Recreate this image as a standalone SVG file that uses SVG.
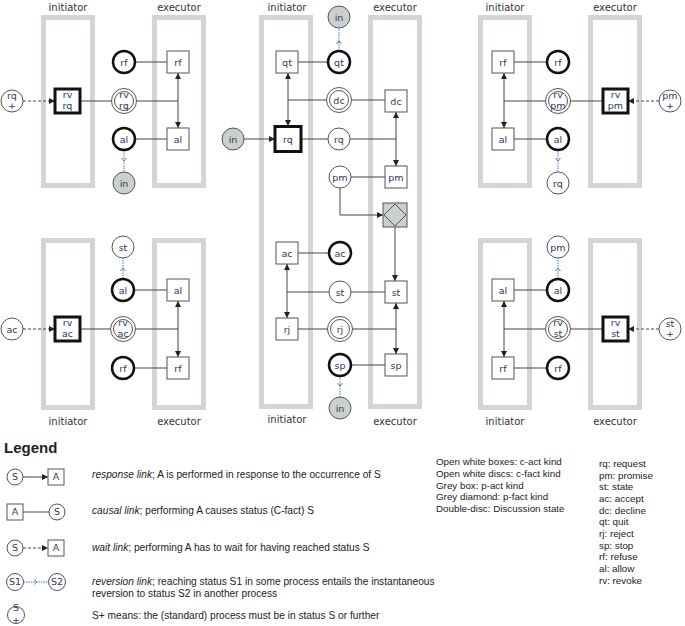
<svg xmlns="http://www.w3.org/2000/svg" width="685" height="626" viewBox="0 0 685 626">
<style>
.lane{fill:none;stroke:#d2d6d2;stroke-width:5}
.lbl{font-family:"DejaVu Sans",sans-serif;font-size:10px;fill:#333;text-anchor:middle}
.box{fill:#fff;stroke:#555;stroke-width:1}
.tbox{fill:#fff;stroke:#111;stroke-width:3}
.sc{fill:#fff;stroke:#555;stroke-width:1}
.tc{fill:#fff;stroke:#111;stroke-width:2.5}
.gc{fill:#ccd0cc;stroke:#555;stroke-width:1}
.t{font-family:"DejaVu Sans",sans-serif;font-size:9.5px;fill:#2a3868;text-anchor:middle}
.ln{stroke:#444;stroke-width:1;fill:none}
.dash{stroke-dasharray:3,2}
.rev{stroke:#4a78c8;stroke-width:1;stroke-dasharray:1.5,1;fill:none}
.lg{font-family:"Liberation Sans",Arial,sans-serif;font-size:10.2px;fill:#222}
.lr{font-family:"Liberation Sans",Arial,sans-serif;font-size:9.8px;fill:#222}
</style>
<defs>
<marker id="a" viewBox="0 0 6 6" refX="6" refY="3" markerWidth="6" markerHeight="6" markerUnits="userSpaceOnUse" orient="auto-start-reverse"><path d="M0,0 L6,3 L0,6 z" fill="#222"/></marker>
<marker id="v" viewBox="0 0 6 6" refX="4" refY="3" markerWidth="6" markerHeight="6" markerUnits="userSpaceOnUse" orient="auto"><path d="M1,0.5 L4,3 L1,5.5" fill="none" stroke="#4a78c8" stroke-width="1"/></marker>
</defs>

<g id="lanes">
<rect class="lane" x="43.5" y="17.5" width="49" height="168"/>
<rect class="lane" x="154.5" y="17.5" width="49" height="168"/>
<rect class="lane" x="43.5" y="240.5" width="49" height="167"/>
<rect class="lane" x="154.5" y="240.5" width="49" height="167"/>
<rect class="lane" x="261.5" y="17.5" width="49" height="389"/>
<rect class="lane" x="370.5" y="17.5" width="49" height="389"/>
<rect class="lane" x="480.5" y="17.5" width="49" height="168"/>
<rect class="lane" x="590.5" y="17.5" width="49" height="168"/>
<rect class="lane" x="480.5" y="240.5" width="49" height="167"/>
<rect class="lane" x="590.5" y="240.5" width="49" height="167"/>
<text class="lbl" x="68" y="11">initiator</text>
<text class="lbl" x="179" y="11">executor</text>
<text class="lbl" x="68" y="425">initiator</text>
<text class="lbl" x="179" y="425">executor</text>
<text class="lbl" x="287" y="11">initiator</text>
<text class="lbl" x="395" y="11">executor</text>
<text class="lbl" x="287" y="423">initiator</text>
<text class="lbl" x="395" y="425">executor</text>
<text class="lbl" x="505" y="11">initiator</text>
<text class="lbl" x="615" y="11">executor</text>
<text class="lbl" x="505" y="425">initiator</text>
<text class="lbl" x="615" y="425">executor</text>
</g>

<g id="connectors">
<line class="ln" x1="135" y1="62" x2="167" y2="62"/>
<line class="ln dash" x1="23" y1="101" x2="55" y2="101" marker-end="url(#a)"/>
<line class="ln" x1="80" y1="101" x2="111.5" y2="101"/>
<line class="ln" x1="136.5" y1="101" x2="178" y2="101"/>
<line class="ln" x1="178" y1="73" x2="178" y2="128" marker-start="url(#a)" marker-end="url(#a)"/>
<line class="ln" x1="135" y1="139" x2="167" y2="139"/>
<path class="rev" d="M124,150 L124,161 L124,172" marker-mid="url(#v)"/>
<path class="rev" d="M123,279 L123,268 L123,258" marker-mid="url(#v)"/>
<line class="ln" x1="134" y1="290" x2="167" y2="290"/>
<line class="ln dash" x1="23" y1="329" x2="55" y2="329" marker-end="url(#a)"/>
<line class="ln" x1="80" y1="329" x2="110.5" y2="329"/>
<line class="ln" x1="135.5" y1="329" x2="178" y2="329"/>
<line class="ln" x1="178" y1="301" x2="178" y2="357" marker-start="url(#a)" marker-end="url(#a)"/>
<line class="ln" x1="134" y1="368" x2="167" y2="368"/>
<path class="rev" d="M339,51 L339,41 L339,28" marker-mid="url(#v)"/>
<line class="ln" x1="298" y1="62" x2="328" y2="62"/>
<line class="ln" x1="288" y1="73" x2="288" y2="126" marker-start="url(#a)" marker-end="url(#a)"/>
<line class="ln" x1="288" y1="100" x2="326.5" y2="100"/>
<line class="ln" x1="351.5" y1="100" x2="385" y2="100"/>
<line class="ln" x1="244" y1="139" x2="275" y2="139" marker-end="url(#a)"/>
<line class="ln" x1="301" y1="139" x2="328" y2="139"/>
<line class="ln" x1="350" y1="139" x2="396" y2="139"/>
<line class="ln" x1="396" y1="112" x2="396" y2="166" marker-start="url(#a)" marker-end="url(#a)"/>
<line class="ln" x1="351" y1="177" x2="385" y2="177"/>
<path class="ln" d="M340,188 L340,215 L383,215" marker-end="url(#a)"/>
<line class="ln" x1="395" y1="227" x2="395" y2="281" marker-end="url(#a)"/>
<line class="ln" x1="297" y1="253" x2="329" y2="253"/>
<line class="ln" x1="287" y1="292" x2="329" y2="292"/>
<line class="ln" x1="351" y1="292" x2="385" y2="292"/>
<line class="ln" x1="287" y1="264" x2="287" y2="318" marker-start="url(#a)" marker-end="url(#a)"/>
<line class="ln" x1="297" y1="329" x2="327.5" y2="329"/>
<line class="ln" x1="352.5" y1="329" x2="396" y2="329"/>
<line class="ln" x1="396" y1="303" x2="396" y2="354" marker-start="url(#a)" marker-end="url(#a)"/>
<line class="ln" x1="351" y1="365" x2="385" y2="365"/>
<path class="rev" d="M340,376 L340,386 L340,397" marker-mid="url(#v)"/>
<line class="ln" x1="514" y1="62" x2="547" y2="62"/>
<line class="ln" x1="504" y1="73" x2="504" y2="128" marker-start="url(#a)" marker-end="url(#a)"/>
<line class="ln" x1="504" y1="101" x2="545.5" y2="101"/>
<line class="ln" x1="570.5" y1="101" x2="603" y2="101"/>
<line class="ln dash" x1="659" y1="101" x2="628" y2="101" marker-end="url(#a)"/>
<line class="ln" x1="514" y1="139" x2="547" y2="139"/>
<path class="rev" d="M558,150 L558,161 L558,172" marker-mid="url(#v)"/>
<path class="rev" d="M558,279 L558,268 L558,258" marker-mid="url(#v)"/>
<line class="ln" x1="514" y1="290" x2="547" y2="290"/>
<line class="ln" x1="504" y1="301" x2="504" y2="357" marker-start="url(#a)" marker-end="url(#a)"/>
<line class="ln" x1="504" y1="329" x2="545.5" y2="329"/>
<line class="ln" x1="570.5" y1="329" x2="603" y2="329"/>
<line class="ln dash" x1="659" y1="329" x2="628" y2="329" marker-end="url(#a)"/>
<line class="ln" x1="514" y1="368" x2="547" y2="368"/>
</g>

<g id="A_rf_c"><circle class="tc" cx="124" cy="62" r="11"/><text class="t" x="124" y="65.5">rf</text></g>
<g id="A_rf_b"><rect class="box" x="167" y="51" width="22" height="22"/><text class="t" x="178" y="65.5">rf</text></g>
<g id="A_rq_plus"><circle class="sc" cx="12" cy="101" r="11"/><text class="t" x="12" y="99">rq</text><text class="t" x="12" y="109">+</text></g>
<g id="A_rvrq_b"><rect class="tbox" x="55" y="89" width="25" height="24"/><text class="t" x="67.5" y="98">rv</text><text class="t" x="67.5" y="109">rq</text></g>
<g id="A_rvrq_c"><circle class="sc" cx="124" cy="101" r="12.5"/><circle class="sc" cx="124" cy="101" r="9.5"/><text class="t" x="124" y="98">rv</text><text class="t" x="124" y="109">rq</text></g>
<g id="A_al_c"><circle class="tc" cx="124" cy="139" r="11"/><text class="t" x="124" y="142.5">al</text></g>
<g id="A_al_b"><rect class="box" x="167" y="128" width="22" height="22"/><text class="t" x="178" y="142.5">al</text></g>
<g id="A_in"><circle class="gc" cx="124" cy="183" r="11"/><text class="t" x="124" y="186.5">in</text></g>

<g id="B_st_c"><circle class="sc" cx="123" cy="247" r="11"/><text class="t" x="123" y="250.5">st</text></g>
<g id="B_al_c"><circle class="tc" cx="123" cy="290" r="11"/><text class="t" x="123" y="293.5">al</text></g>
<g id="B_al_b"><rect class="box" x="167" y="279" width="22" height="22"/><text class="t" x="178" y="293.5">al</text></g>
<g id="B_ac_c"><circle class="sc" cx="12" cy="329" r="11"/><text class="t" x="12" y="332.5">ac</text></g>
<g id="B_rvac_b"><rect class="tbox" x="55" y="317" width="25" height="24"/><text class="t" x="67.5" y="326">rv</text><text class="t" x="67.5" y="337">ac</text></g>
<g id="B_rvac_c"><circle class="sc" cx="123" cy="329" r="12.5"/><circle class="sc" cx="123" cy="329" r="9.5"/><text class="t" x="123" y="326">rv</text><text class="t" x="123" y="337">ac</text></g>
<g id="B_rf_c"><circle class="tc" cx="123" cy="368" r="11"/><text class="t" x="123" y="371.5">rf</text></g>
<g id="B_rf_b"><rect class="box" x="167" y="357" width="22" height="22"/><text class="t" x="178" y="371.5">rf</text></g>

<g id="C_in_top"><circle class="gc" cx="339" cy="17" r="11"/><text class="t" x="339" y="20.5">in</text></g>
<g id="C_qt_b"><rect class="box" x="276" y="51" width="22" height="22"/><text class="t" x="287" y="65.5">qt</text></g>
<g id="C_qt_c"><circle class="tc" cx="339" cy="62" r="11"/><text class="t" x="339" y="65.5">qt</text></g>
<g id="C_dc_c"><circle class="sc" cx="339" cy="100" r="12.5"/><circle class="sc" cx="339" cy="100" r="9.5"/><text class="t" x="339" y="103.5">dc</text></g>
<g id="C_dc_b"><rect class="box" x="385" y="90" width="22" height="22"/><text class="t" x="396" y="104.5">dc</text></g>
<g id="C_in_left"><circle class="gc" cx="233" cy="139" r="11"/><text class="t" x="233" y="142.5">in</text></g>
<g id="C_rq_b"><rect class="tbox" x="275" y="126.5" width="26" height="25"/><text class="t" x="288" y="142.5">rq</text></g>
<g id="C_rq_c"><circle class="sc" cx="339" cy="139" r="11"/><text class="t" x="339" y="142.5">rq</text></g>
<g id="C_pm_c"><circle class="sc" cx="340" cy="177" r="11"/><text class="t" x="340" y="180.5">pm</text></g>
<g id="C_pm_b"><rect class="box" x="385" y="166" width="22" height="22"/><text class="t" x="396" y="180.5">pm</text></g>
<g id="C_pfact"><rect x="383" y="203" width="24" height="24" fill="#ccd0cc" stroke="#555" stroke-width="1"/><path d="M395,204 L406,215 L395,226 L384,215 z" fill="#ccd0cc" stroke="#555" stroke-width="1"/></g>
<g id="C_ac_b"><rect class="box" x="276" y="242" width="22" height="22"/><text class="t" x="287" y="256.5">ac</text></g>
<g id="C_ac_c"><circle class="tc" cx="340" cy="253" r="11"/><text class="t" x="340" y="256.5">ac</text></g>
<g id="C_st_c"><circle class="sc" cx="340" cy="292" r="11"/><text class="t" x="340" y="295.5">st</text></g>
<g id="C_st_b"><rect class="box" x="385" y="281" width="22" height="22"/><text class="t" x="396" y="295.5">st</text></g>
<g id="C_rj_b"><rect class="box" x="276" y="318" width="22" height="22"/><text class="t" x="287" y="332.5">rj</text></g>
<g id="C_rj_c"><circle class="sc" cx="340" cy="329" r="12.5"/><circle class="sc" cx="340" cy="329" r="9.5"/><text class="t" x="340" y="332.5">rj</text></g>
<g id="C_sp_c"><circle class="tc" cx="340" cy="365" r="11"/><text class="t" x="340" y="368.5">sp</text></g>
<g id="C_sp_b"><rect class="box" x="385" y="354" width="22" height="22"/><text class="t" x="396" y="368.5">sp</text></g>
<g id="C_in_bottom"><circle class="gc" cx="340" cy="408" r="11"/><text class="t" x="340" y="411.5">in</text></g>

<g id="D_rf_b"><rect class="box" x="492" y="51" width="22" height="22"/><text class="t" x="503" y="65.5">rf</text></g>
<g id="D_rf_c"><circle class="tc" cx="558" cy="62" r="11"/><text class="t" x="558" y="65.5">rf</text></g>
<g id="D_rvpm_c"><circle class="sc" cx="558" cy="101" r="12.5"/><circle class="sc" cx="558" cy="101" r="9.5"/><text class="t" x="558" y="98">rv</text><text class="t" x="558" y="109">pm</text></g>
<g id="D_rvpm_b"><rect class="tbox" x="603" y="89" width="25" height="24"/><text class="t" x="615.5" y="98">rv</text><text class="t" x="615.5" y="109">pm</text></g>
<g id="D_pm_plus"><circle class="sc" cx="670" cy="101" r="11"/><text class="t" x="670" y="99">pm</text><text class="t" x="670" y="109">+</text></g>
<g id="D_al_b"><rect class="box" x="492" y="128" width="22" height="22"/><text class="t" x="503" y="142.5">al</text></g>
<g id="D_al_c"><circle class="tc" cx="558" cy="139" r="11"/><text class="t" x="558" y="142.5">al</text></g>
<g id="D_rq_c"><circle class="sc" cx="558" cy="183" r="11"/><text class="t" x="558" y="186.5">rq</text></g>

<g id="E_pm_c"><circle class="sc" cx="558" cy="247" r="11"/><text class="t" x="558" y="250.5">pm</text></g>
<g id="E_al_c"><circle class="tc" cx="558" cy="290" r="11"/><text class="t" x="558" y="293.5">al</text></g>
<g id="E_al_b"><rect class="box" x="492" y="279" width="22" height="22"/><text class="t" x="503" y="293.5">al</text></g>
<g id="E_rvst_c"><circle class="sc" cx="558" cy="329" r="12.5"/><circle class="sc" cx="558" cy="329" r="9.5"/><text class="t" x="558" y="326">rv</text><text class="t" x="558" y="337">st</text></g>
<g id="E_rvst_b"><rect class="tbox" x="603" y="317" width="25" height="24"/><text class="t" x="615.5" y="326">rv</text><text class="t" x="615.5" y="337">st</text></g>
<g id="E_st_plus"><circle class="sc" cx="670" cy="329" r="11"/><text class="t" x="670" y="327">st</text><text class="t" x="670" y="337">+</text></g>
<g id="E_rf_b"><rect class="box" x="492" y="357" width="22" height="22"/><text class="t" x="503" y="371.5">rf</text></g>
<g id="E_rf_c"><circle class="tc" cx="558" cy="368" r="11"/><text class="t" x="558" y="371.5">rf</text></g>

<g id="legend">
<text x="4" y="453" font-family="Liberation Sans,Arial,sans-serif" font-size="15" font-weight="bold" fill="#222">Legend</text>
<circle class="sc" cx="15" cy="477" r="8"/><text class="t" x="15" y="480" font-size="8">S</text>
<line class="ln" x1="23" y1="477" x2="48" y2="477" marker-end="url(#a)"/>
<rect class="box" x="48" y="469" width="16" height="16"/><text class="t" x="56" y="480" font-size="8">A</text>
<text class="lg" x="92" y="478"><tspan font-style="italic">response link</tspan>; A is performed in response to the occurrence of S</text>

<rect class="box" x="7" y="504" width="16" height="16"/><text class="t" x="15" y="515" font-size="8">A</text>
<line class="ln" x1="23" y1="512" x2="49" y2="512"/>
<circle class="sc" cx="57" cy="512" r="8"/><text class="t" x="57" y="515" font-size="8">S</text>
<text class="lg" x="92" y="514"><tspan font-style="italic">causal link</tspan>; performing A causes status (C-fact) S</text>

<circle class="sc" cx="15" cy="548" r="8"/><text class="t" x="15" y="551" font-size="8">S</text>
<line class="ln dash" x1="23" y1="548" x2="48" y2="548" marker-end="url(#a)"/>
<rect class="box" x="48" y="540" width="16" height="16"/><text class="t" x="56" y="551" font-size="8">A</text>
<text class="lg" x="92" y="551"><tspan font-style="italic">wait link</tspan>; performing A has to wait for having reached status S</text>

<circle class="sc" cx="15" cy="582" r="8.5"/><text class="t" x="15" y="585" font-size="7.5">S1</text>
<path class="rev" d="M23.5,582 L37,582 L48.5,582" marker-mid="url(#v)"/>
<circle class="sc" cx="57" cy="582" r="8.5"/><text class="t" x="57" y="585" font-size="7.5">S2</text>
<text class="lg" x="92" y="585"><tspan font-style="italic">reversion link</tspan>; reaching status S1 in some process entails the instantaneous</text>
<text class="lg" x="92" y="597">reversion to status S2 in another process</text>

<circle class="sc" cx="16" cy="615" r="8.5"/><text class="t" x="16" y="610.5" font-size="5.5">S</text><text class="t" x="16" y="622.5" font-size="5.5" fill="#803080">+</text>
<text class="lg" x="92" y="619">S+ means: the (standard) process must be in status S or further</text>

<text class="lr" x="436" y="465">Open white boxes: c-act kind</text>
<text class="lr" x="436" y="477">Open white discs: c-fact kind</text>
<text class="lr" x="436" y="488.5">Grey box: p-act kind</text>
<text class="lr" x="436" y="500">Grey diamond: p-fact kind</text>
<text class="lr" x="436" y="512">Double-disc: Discussion state</text>

<text class="lr" x="599" y="467">rq: request</text>
<text class="lr" x="599" y="478.5">pm: promise</text>
<text class="lr" x="599" y="490">st: state</text>
<text class="lr" x="599" y="502">ac: accept</text>
<text class="lr" x="599" y="513.5">dc: decline</text>
<text class="lr" x="599" y="525">qt: quit</text>
<text class="lr" x="599" y="537">rj: reject</text>
<text class="lr" x="599" y="548.5">sp: stop</text>
<text class="lr" x="599" y="560">rf: refuse</text>
<text class="lr" x="599" y="572">al: allow</text>
<text class="lr" x="599" y="583.5">rv: revoke</text>
</g>
</svg>
